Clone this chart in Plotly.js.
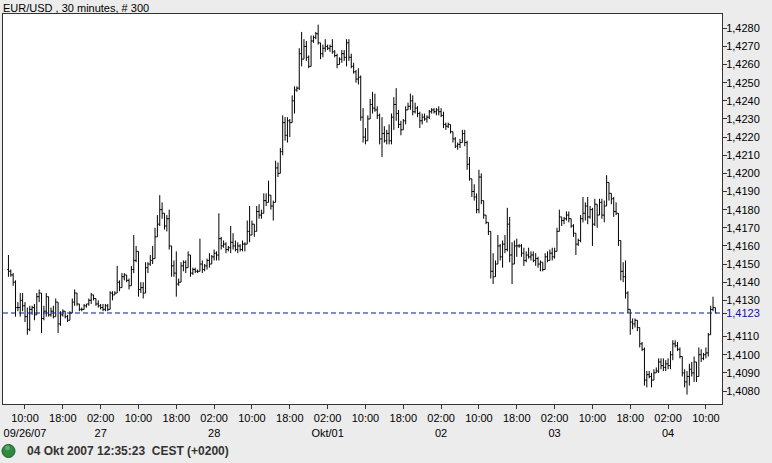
<!DOCTYPE html>
<html><head><meta charset="utf-8">
<script src="https://cdn.plot.ly/plotly-3.0.1.min.js"></script>
<style>html,body{margin:0;padding:0;background:#ececec;}#chart{width:772px;height:463px;}</style>
</head><body><div id="chart"></div>
<script>
const chartTitle = "EUR/USD , 30 minutes, # 300";
const statusText = "04 Okt 2007 12:35:23\u00a0 CEST (+0200)";
const lastPrice = 1.4123;

const open = [
1.4147,1.4146,1.4144,1.4140,1.4126,1.4126,1.4130,1.4127,1.4121,1.4114,1.4125,1.4126,1.4122,1.4132,1.4134,1.4120,1.4124,1.4132,1.4122,1.4124,
1.4121,1.4129,1.4117,1.4122,1.4124,1.4121,1.4119,1.4123,1.4129,1.4134,1.4128,1.4125,1.4125,1.4127,1.4128,1.4130,1.4133,1.4131,1.4128,1.4127,
1.4126,1.4125,1.4127,1.4125,1.4134,1.4133,1.4134,1.4140,1.4137,1.4143,1.4144,1.4141,1.4138,1.4147,1.4152,1.4157,1.4136,1.4137,1.4134,1.4148,
1.4150,1.4152,1.4153,1.4165,1.4172,1.4180,1.4178,1.4171,1.4175,1.4160,1.4149,1.4145,1.4139,1.4140,1.4149,1.4151,1.4148,1.4155,1.4145,1.4147,
1.4146,1.4146,1.4150,1.4147,1.4149,1.4152,1.4150,1.4154,1.4156,1.4155,1.4164,1.4160,1.4161,1.4158,1.4159,1.4162,1.4160,1.4158,1.4160,1.4158,
1.4161,1.4161,1.4168,1.4166,1.4172,1.4168,1.4179,1.4177,1.4178,1.4185,1.4184,1.4188,1.4182,1.4184,1.4203,1.4200,1.4212,1.4228,1.4221,1.4229,
1.4228,1.4240,1.4246,1.4247,1.4266,1.4263,1.4270,1.4264,1.4259,1.4273,1.4275,1.4277,1.4272,1.4266,1.4269,1.4270,1.4269,1.4270,1.4267,1.4265,
1.4260,1.4263,1.4266,1.4264,1.4272,1.4264,1.4259,1.4256,1.4252,1.4253,1.4231,1.4220,1.4218,1.4230,1.4238,1.4236,1.4235,1.4232,1.4219,1.4222,
1.4218,1.4222,1.4218,1.4231,1.4238,1.4233,1.4227,1.4224,1.4229,1.4235,1.4237,1.4240,1.4234,1.4236,1.4233,1.4229,1.4231,1.4230,1.4231,1.4234,
1.4235,1.4234,1.4235,1.4234,1.4232,1.4227,1.4226,1.4227,1.4223,1.4219,1.4215,1.4216,1.4217,1.4222,1.4217,1.4205,1.4197,1.4190,1.4187,1.4180,
1.4198,1.4185,1.4177,1.4173,1.4168,1.4146,1.4143,1.4150,1.4160,1.4154,1.4161,1.4158,1.4172,1.4155,1.4150,1.4160,1.4160,1.4160,1.4156,1.4152,
1.4155,1.4154,1.4155,1.4152,1.4153,1.4150,1.4151,1.4147,1.4154,1.4152,1.4156,1.4154,1.4157,1.4168,1.4176,1.4174,1.4175,1.4177,1.4175,1.4171,
1.4167,1.4161,1.4163,1.4175,1.4178,1.4182,1.4176,1.4180,1.4172,1.4183,1.4177,1.4184,1.4177,1.4182,1.4195,1.4189,1.4186,1.4179,1.4178,1.4163,
1.4146,1.4143,1.4134,1.4125,1.4118,1.4117,1.4119,1.4115,1.4106,1.4103,1.4086,1.4089,1.4088,1.4086,1.4090,1.4091,1.4096,1.4094,1.4093,1.4095,
1.4094,1.4100,1.4106,1.4105,1.4103,1.4099,1.4090,1.4085,1.4088,1.4092,1.4090,1.4096,1.4088,1.4100,1.4098,1.4100,1.4101,1.4111,1.4125,1.4126
];
const high = [
1.4155,1.4147,1.4145,1.4141,1.4129,1.4134,1.4134,1.4129,1.4126,1.4127,1.4127,1.4128,1.4134,1.4136,1.4134,1.4127,1.4134,1.4132,1.4126,1.4127,
1.4131,1.4129,1.4124,1.4125,1.4124,1.4122,1.4124,1.4131,1.4136,1.4134,1.4128,1.4126,1.4128,1.4128,1.4131,1.4134,1.4133,1.4131,1.4130,1.4128,
1.4128,1.4128,1.4128,1.4135,1.4135,1.4135,1.4149,1.4141,1.4145,1.4145,1.4144,1.4142,1.4149,1.4166,1.4160,1.4157,1.4140,1.4140,1.4151,1.4151,
1.4155,1.4160,1.4170,1.4177,1.4188,1.4184,1.4178,1.4177,1.4180,1.4160,1.4152,1.4157,1.4142,1.4151,1.4152,1.4152,1.4157,1.4155,1.4148,1.4148,
1.4147,1.4164,1.4152,1.4150,1.4153,1.4156,1.4155,1.4158,1.4157,1.4178,1.4165,1.4163,1.4162,1.4160,1.4171,1.4167,1.4163,1.4162,1.4161,1.4163,
1.4162,1.4174,1.4182,1.4174,1.4172,1.4182,1.4183,1.4180,1.4189,1.4189,1.4196,1.4188,1.4185,1.4207,1.4206,1.4214,1.4232,1.4231,1.4231,1.4230,
1.4243,1.4248,1.4248,1.4269,1.4278,1.4274,1.4273,1.4265,1.4276,1.4276,1.4278,1.4282,1.4272,1.4271,1.4274,1.4271,1.4271,1.4274,1.4268,1.4266,
1.4264,1.4268,1.4268,1.4274,1.4274,1.4266,1.4261,1.4257,1.4258,1.4254,1.4236,1.4225,1.4232,1.4241,1.4245,1.4244,1.4237,1.4233,1.4231,1.4226,
1.4224,1.4227,1.4233,1.4242,1.4247,1.4235,1.4229,1.4230,1.4237,1.4239,1.4244,1.4243,1.4239,1.4237,1.4234,1.4233,1.4233,1.4232,1.4235,1.4236,
1.4236,1.4236,1.4237,1.4236,1.4234,1.4228,1.4228,1.4227,1.4223,1.4220,1.4217,1.4219,1.4224,1.4224,1.4218,1.4209,1.4197,1.4194,1.4189,1.4202,
1.4200,1.4185,1.4177,1.4173,1.4168,1.4156,1.4152,1.4166,1.4161,1.4163,1.4166,1.4181,1.4176,1.4162,1.4163,1.4164,1.4161,1.4161,1.4159,1.4157,
1.4159,1.4157,1.4157,1.4156,1.4154,1.4152,1.4151,1.4156,1.4157,1.4158,1.4159,1.4159,1.4170,1.4180,1.4176,1.4176,1.4179,1.4179,1.4175,1.4172,
1.4167,1.4164,1.4177,1.4187,1.4184,1.4187,1.4182,1.4181,1.4186,1.4183,1.4186,1.4186,1.4185,1.4199,1.4195,1.4189,1.4187,1.4184,1.4178,1.4163,
1.4151,1.4152,1.4135,1.4125,1.4120,1.4120,1.4119,1.4115,1.4107,1.4104,1.4091,1.4091,1.4090,1.4092,1.4093,1.4098,1.4098,1.4098,1.4097,1.4098,
1.4102,1.4108,1.4108,1.4107,1.4104,1.4099,1.4092,1.4091,1.4095,1.4096,1.4099,1.4096,1.4104,1.4103,1.4101,1.4104,1.4112,1.4127,1.4132,1.4126
];
const low = [
1.4143,1.4143,1.4138,1.4121,1.4124,1.4121,1.4124,1.4118,1.4111,1.4113,1.4122,1.4119,1.4122,1.4129,1.4112,1.4119,1.4121,1.4121,1.4121,1.4120,
1.4121,1.4112,1.4116,1.4121,1.4120,1.4118,1.4119,1.4123,1.4127,1.4127,1.4124,1.4124,1.4125,1.4126,1.4127,1.4128,1.4130,1.4127,1.4126,1.4125,
1.4124,1.4124,1.4124,1.4125,1.4130,1.4133,1.4134,1.4135,1.4137,1.4141,1.4140,1.4136,1.4138,1.4145,1.4151,1.4132,1.4134,1.4131,1.4134,1.4145,
1.4149,1.4150,1.4153,1.4165,1.4171,1.4175,1.4169,1.4168,1.4158,1.4143,1.4143,1.4132,1.4138,1.4140,1.4146,1.4145,1.4148,1.4143,1.4144,1.4145,
1.4145,1.4146,1.4145,1.4146,1.4147,1.4148,1.4150,1.4152,1.4152,1.4152,1.4158,1.4159,1.4156,1.4157,1.4156,1.4158,1.4157,1.4156,1.4157,1.4157,
1.4157,1.4161,1.4162,1.4166,1.4165,1.4168,1.4175,1.4175,1.4178,1.4182,1.4184,1.4180,1.4174,1.4184,1.4198,1.4200,1.4210,1.4218,1.4217,1.4220,
1.4228,1.4233,1.4245,1.4246,1.4259,1.4263,1.4262,1.4258,1.4259,1.4272,1.4274,1.4271,1.4263,1.4264,1.4267,1.4268,1.4267,1.4266,1.4264,1.4258,
1.4260,1.4261,1.4262,1.4259,1.4262,1.4258,1.4255,1.4250,1.4249,1.4229,1.4217,1.4216,1.4218,1.4230,1.4233,1.4234,1.4230,1.4216,1.4209,1.4217,
1.4216,1.4216,1.4216,1.4224,1.4229,1.4225,1.4221,1.4224,1.4227,1.4235,1.4235,1.4232,1.4233,1.4231,1.4225,1.4227,1.4229,1.4228,1.4230,1.4233,
1.4233,1.4232,1.4232,1.4231,1.4225,1.4224,1.4225,1.4222,1.4217,1.4214,1.4213,1.4214,1.4217,1.4215,1.4202,1.4196,1.4187,1.4185,1.4178,1.4178,
1.4183,1.4175,1.4172,1.4166,1.4142,1.4139,1.4143,1.4150,1.4152,1.4148,1.4156,1.4157,1.4151,1.4139,1.4150,1.4154,1.4159,1.4154,1.4149,1.4151,
1.4153,1.4152,1.4151,1.4149,1.4148,1.4146,1.4146,1.4147,1.4151,1.4152,1.4152,1.4153,1.4157,1.4168,1.4171,1.4172,1.4174,1.4173,1.4170,1.4165,
1.4155,1.4160,1.4162,1.4173,1.4174,1.4172,1.4175,1.4160,1.4171,1.4170,1.4177,1.4175,1.4173,1.4182,1.4185,1.4183,1.4176,1.4177,1.4160,1.4141,
1.4140,1.4131,1.4123,1.4111,1.4114,1.4115,1.4113,1.4104,1.4102,1.4083,1.4082,1.4087,1.4082,1.4086,1.4090,1.4090,1.4092,1.4091,1.4091,1.4092,
1.4092,1.4097,1.4104,1.4102,1.4098,1.4088,1.4082,1.4078,1.4083,1.4088,1.4085,1.4085,1.4088,1.4096,1.4097,1.4098,1.4099,1.4111,1.4124,1.4123
];
const close = [
1.4146,1.4144,1.4140,1.4126,1.4126,1.4130,1.4127,1.4121,1.4114,1.4125,1.4126,1.4122,1.4132,1.4134,1.4120,1.4124,1.4132,1.4122,1.4124,1.4121,
1.4129,1.4117,1.4122,1.4124,1.4121,1.4119,1.4123,1.4129,1.4134,1.4128,1.4125,1.4125,1.4127,1.4128,1.4130,1.4133,1.4131,1.4128,1.4127,1.4126,
1.4125,1.4127,1.4125,1.4134,1.4133,1.4134,1.4140,1.4137,1.4143,1.4144,1.4141,1.4138,1.4147,1.4152,1.4157,1.4136,1.4137,1.4134,1.4148,1.4150,
1.4152,1.4153,1.4165,1.4172,1.4180,1.4178,1.4171,1.4175,1.4160,1.4149,1.4145,1.4139,1.4140,1.4149,1.4151,1.4148,1.4155,1.4145,1.4147,1.4146,
1.4146,1.4150,1.4147,1.4149,1.4152,1.4150,1.4154,1.4156,1.4155,1.4164,1.4160,1.4161,1.4158,1.4159,1.4162,1.4160,1.4158,1.4160,1.4158,1.4161,
1.4161,1.4168,1.4166,1.4172,1.4168,1.4179,1.4177,1.4178,1.4185,1.4184,1.4188,1.4182,1.4184,1.4203,1.4200,1.4212,1.4228,1.4221,1.4229,1.4228,
1.4240,1.4246,1.4247,1.4266,1.4263,1.4270,1.4264,1.4259,1.4273,1.4275,1.4277,1.4272,1.4266,1.4269,1.4270,1.4269,1.4270,1.4267,1.4265,1.4260,
1.4263,1.4266,1.4264,1.4272,1.4264,1.4259,1.4256,1.4252,1.4253,1.4231,1.4220,1.4218,1.4230,1.4238,1.4236,1.4235,1.4232,1.4219,1.4222,1.4218,
1.4222,1.4218,1.4231,1.4238,1.4233,1.4227,1.4224,1.4229,1.4235,1.4237,1.4240,1.4234,1.4236,1.4233,1.4229,1.4231,1.4230,1.4231,1.4234,1.4235,
1.4234,1.4235,1.4234,1.4232,1.4227,1.4226,1.4227,1.4223,1.4219,1.4215,1.4216,1.4217,1.4222,1.4217,1.4205,1.4197,1.4190,1.4187,1.4180,1.4198,
1.4185,1.4177,1.4173,1.4168,1.4146,1.4143,1.4150,1.4160,1.4154,1.4161,1.4158,1.4172,1.4155,1.4150,1.4160,1.4160,1.4160,1.4156,1.4152,1.4155,
1.4154,1.4155,1.4152,1.4153,1.4150,1.4151,1.4147,1.4154,1.4152,1.4156,1.4154,1.4157,1.4168,1.4176,1.4174,1.4175,1.4177,1.4175,1.4171,1.4167,
1.4161,1.4163,1.4175,1.4178,1.4182,1.4176,1.4180,1.4172,1.4183,1.4177,1.4184,1.4177,1.4182,1.4195,1.4189,1.4186,1.4179,1.4178,1.4163,1.4146,
1.4143,1.4134,1.4125,1.4118,1.4117,1.4119,1.4115,1.4106,1.4103,1.4086,1.4089,1.4088,1.4086,1.4090,1.4091,1.4096,1.4094,1.4093,1.4095,1.4094,
1.4100,1.4106,1.4105,1.4103,1.4099,1.4090,1.4085,1.4088,1.4092,1.4090,1.4096,1.4088,1.4100,1.4098,1.4100,1.4101,1.4111,1.4125,1.4126,1.4123
];

const xTickLabels = ["10:00<br>09/26/07","18:00","02:00<br>27","10:00","18:00","02:00<br>28","10:00","18:00","02:00<br>Okt/01","10:00","18:00","02:00<br>02","10:00","18:00","02:00<br>03","10:00","18:00","02:00<br>04","10:00"];
const yTickValues = [1.4080,1.4090,1.4100,1.4110,1.4123,1.4130,1.4140,1.4150,1.4160,1.4170,1.4180,1.4190,1.4200,1.4210,1.4220,1.4230,1.4240,1.4250,1.4260,1.4270,1.4280];

const barIndex = close.map((_, i) => i);
const firstTickBar = 7, barsPerTick = 16;
const xTickVals = xTickLabels.map((_, k) => firstTickBar + barsPerTick * k);
const lastColor = '#12129a';
const yTickText = yTickValues.map(v => {
  const s = v.toFixed(4).replace('.', ',');
  return v === lastPrice ? '<span style="color:' + lastColor + '">' + s + '</span>' : s;
});

const trace = {
  type: 'ohlc', x: barIndex, open: open, high: high, low: low, close: close,
  increasing: {line: {color: '#000000', width: 1}},
  decreasing: {line: {color: '#000000', width: 1}},
  tickwidth: 0.5, hoverinfo: 'skip', showlegend: false
};

const layout = {
  width: 772, height: 463,
  margin: {l: 3, r: 50, t: 14, b: 59, pad: 0},
  paper_bgcolor: '#ececec', plot_bgcolor: '#ffffff',
  font: {family: 'Liberation Sans, Arial, sans-serif', size: 11, color: '#000000'},
  showlegend: false, hovermode: false, dragmode: false,
  xaxis: {
    range: [-2.3, 301.8], tickmode: 'array', tickvals: xTickVals, ticktext: xTickLabels,
    ticks: 'outside', ticklen: 4, tickcolor: '#333333', showgrid: false, zeroline: false,
    showline: true, mirror: true, linecolor: '#333333', linewidth: 1,
    rangeslider: {visible: false}, fixedrange: true, tickfont: {size: 11, color: '#000000'}
  },
  yaxis: {
    side: 'right', range: [1.407283, 1.428789], tickmode: 'array', tickvals: yTickValues, ticktext: yTickText,
    ticks: 'outside', ticklen: 4, tickcolor: '#333333', showgrid: false, zeroline: false,
    showline: true, mirror: true, linecolor: '#333333', linewidth: 1, fixedrange: true,
    ticklabelstandoff: -3,
    tickfont: {size: 11, color: '#000000'}
  },
  shapes: [
    {type: 'line', xref: 'paper', x0: 0, x1: 1, yref: 'y', y0: lastPrice, y1: lastPrice,
     line: {color: lastColor, width: 1.2, dash: '5px,3px'}},
    {type: 'circle', xref: 'paper', yref: 'paper', x0: -0.0014, x1: 0.0167, y0: -0.1372, y1: -0.1038,
     fillcolor: '#2f8a3f', line: {color: '#1d5a28', width: 1}},
    {type: 'circle', xref: 'paper', yref: 'paper', x0: 0.0028, x1: 0.0097, y0: -0.1192, y1: -0.1064,
     fillcolor: '#7cc486', opacity: 0.6, line: {width: 0}}
  ],
  annotations: [
    {text: chartTitle, xref: 'paper', yref: 'paper', x: 0, y: 1, xanchor: 'left', yanchor: 'bottom',
     xshift: -2, yshift: -2, showarrow: false, font: {size: 11, color: '#000000'}},
    {text: '<b>' + statusText + '</b>', xref: 'paper', yref: 'paper', x: 0.0306, y: -0.1205,
     xanchor: 'left', yanchor: 'middle', showarrow: false, font: {size: 12, color: '#333333'}}
  ]
};

Plotly.newPlot('chart', [trace], layout, {displayModeBar: false, staticPlot: true});
</script>
</body></html>
